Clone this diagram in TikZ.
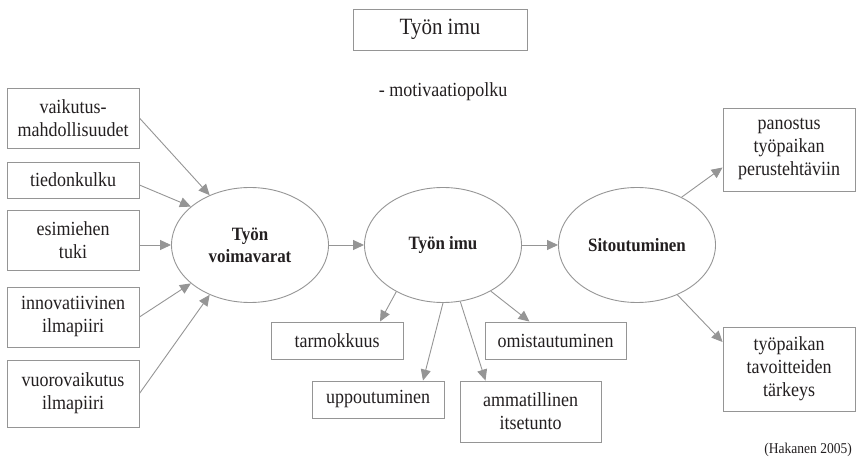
\documentclass[tikz,border=0pt]{standalone}
\usepackage{fontspec}
\setmainfont[FakeStretch=0.9]{Liberation Serif}
\usetikzlibrary{arrows.meta,shapes.geometric}
\definecolor{ln}{HTML}{959595}
\definecolor{tx}{HTML}{231F20}
\begin{document}
\begin{tikzpicture}[x=1pt,y=-1pt,
  box/.style={draw=ln,line width=0.9pt,rectangle,inner sep=0pt,align=center,text=tx,font=\fontsize{20}{23}\selectfont},
  ell/.style={draw=ln,line width=0.9pt,ellipse,inner sep=0pt,minimum width=157pt,minimum height=115pt,align=center,text=tx,font=\fontsize{18.8}{22}\selectfont\bfseries},
  lbl/.style={text=tx,inner sep=0pt},
  arr/.style={draw=ln,line width=0.9pt,-{Triangle[length=11pt,width=10pt]}}]
\useasboundingbox (0,0) rectangle (856,462);
% title
\node[box,minimum width=174pt,minimum height=41pt,font=\fontsize{23.3}{26}\selectfont] (title) at (440,29.5) {Työn imu};
\node[lbl,font=\fontsize{20}{23}\selectfont] (sub) at (443,92) {- motivaatiopolku};
% left boxes
\node[box,minimum width=132pt,minimum height=60pt] (vaik) at (73,118) {vaikutus-\\mahdollisuudet};
\node[box,minimum width=132pt,minimum height=36pt] (tied) at (73,180) {tiedonkulku};
\node[box,minimum width=132pt,minimum height=60pt] (esim) at (73,240) {esimiehen\\tuki};
\node[box,minimum width=132pt,minimum height=60pt] (inno) at (73,317) {innovatiivinen\\ilmapiiri};
\node[box,minimum width=132pt,minimum height=67pt] (vuor) at (73,393.5) {vuorovaikutus\\ilmapiiri};
% ellipses
\node[ell] (vv) at (250,245) {Työn\\voimavarat};
\node[ell] (imu) at (443,245) {Työn imu};
\node[ell] (sit) at (637,245) {Sitoutuminen};
% bottom boxes
\node[box,minimum width=132pt,minimum height=37pt] (tarm) at (337,340.5) {tarmokkuus};
\node[box,minimum width=141pt,minimum height=37pt] (omis) at (555.5,340.5) {omistautuminen};
\node[box,minimum width=132pt,minimum height=37pt] (upp) at (378,399.5) {uppoutuminen};
\node[box,minimum width=141pt,minimum height=61pt] (amm) at (530.5,411.5) {ammatillinen\\itsetunto};
% right boxes
\node[box,minimum width=132pt,minimum height=83pt] (pan) at (789,149.5) {panostus\\työpaikan\\perustehtäviin};
\node[box,minimum width=132pt,minimum height=84pt] (tav) at (789,369) {työpaikan\\tavoitteiden\\tärkeys};
% source
\node[lbl,anchor=east,font=\fontsize{15}{17}\selectfont] (src) at (852,450) {(Hakanen 2005)};
% arrows into Työn voimavarat
\draw[arr] (vaik.east) -- (vv.129);
\draw[arr] ([yshift=-5pt]tied.east) -- (vv.147);
\draw[arr] (esim.east |- vv.west) -- (vv.west);
\draw[arr] (inno.east) -- (vv.213);
\draw[arr] (vuor.east) -- (vv.231);
% chain
\draw[arr] (vv.east) -- (imu.west);
\draw[arr] (imu.east) -- (sit.west);
% Työn imu outputs
\draw[arr] (imu.225) -- ([xshift=43pt]tarm.north);
\draw[arr] (imu.south) -- ([xshift=45pt]upp.north);
\draw[arr] (imu.287) -- ([xshift=-45pt]amm.north);
\draw[arr] (imu.316) -- ([xshift=-26pt]omis.north);
% Sitoutuminen outputs
\draw[arr] (sit.47) -- ([yshift=-18pt]pan.west);
\draw[arr] (sit.309) -- ([yshift=27pt]tav.west);
\end{tikzpicture}
\end{document}
